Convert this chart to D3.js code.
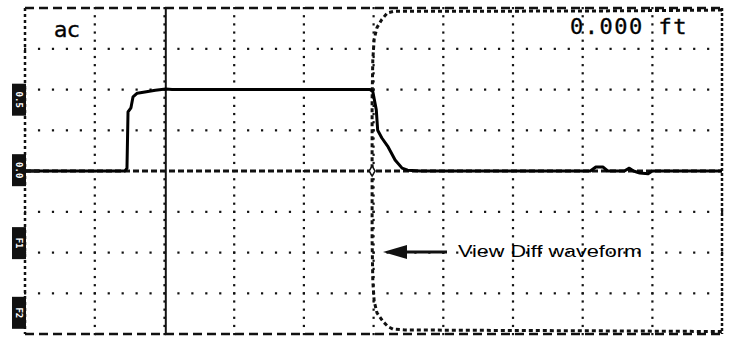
<!DOCTYPE html>
<html lang="en">
<head>
    <meta charset="UTF-8">
    <title>View Diff waveform</title>
    <script src="https://d3js.org/d3.v7.min.js"></script>
    <style>
        body {
            margin: 0;
            background: #fff;
        }

        svg {
            display: block;
        }

        .readout {
            font-family: "DejaVu Sans Mono", monospace;
            font-size: 22px;
            letter-spacing: 1.5px;
            stroke: #111;
            stroke-width: 0.4;
        }

        .mode {
            font-family: "DejaVu Sans", sans-serif;
            font-size: 22px;
            stroke: #111;
            stroke-width: 0.4;
        }

        .note {
            font-family: "Liberation Sans", Arial, sans-serif;
            font-size: 17px;
        }

        .side-label {
            font-family: "DejaVu Sans Mono", monospace;
            font-size: 9px;
            font-weight: bold;
            fill: #fff;
        }
    </style>
</head>
<body>
    <div id="chart"></div>

    <script>
        // measured trace, x in divisions (0-10), y in divisions (-4..4)
        const traceX = [0, 1.435, 1.463, 1.478, 1.52, 1.55, 1.61, 1.72, 1.87, 2.02, 2.11, 4.95, 4.99, 5.04, 5.06,
            5.12, 5.21, 5.31, 5.41, 5.49, 5.67, 8.11, 8.19, 8.29, 8.36, 8.6, 8.67, 8.73, 8.82, 8.94, 9.0, 10];
        const traceY = [0, 0, 0.07, 1.45, 1.55, 1.82, 1.91, 1.94, 1.98, 2.01, 2.0, 2.0, 1.95, 1.5, 1.0,
            0.81, 0.59, 0.27, 0.07, 0.02, 0, 0, 0.1, 0.1, 0, 0, 0.07, 0, -0.05, -0.07, 0, 0];

        // difference waveform (clipped at top and bottom of the screen)
        const diffX = [10, 8.5, 6.5, 5.3, 5.2, 5.12, 5.05, 5.01, 4.99, 4.98, 4.98, 4.98, 4.99, 5.01, 5.05,
            5.14, 5.21, 5.28, 5.45, 6.5, 8.0, 10];
        const diffY = [3.95, 3.93, 3.92, 3.92, 3.88, 3.72, 3.52, 3.24, 2.73, 1.75, 0, -1.7, -2.7, -3.2, -3.48,
            -3.7, -3.82, -3.88, -3.9, -3.91, -3.92, -3.94];

        const cursorX = 2.02;
        const diffMarkerX = 4.98;

        const modeText = "ac";
        const readoutText = "0.000 ft";
        const noteText = "View Diff waveform";

        // scale boxes on the left edge (y in divisions)
        const sideLabelY = [1.75, 0.02, -1.77, -3.48];
        const sideLabelText = ["0.5", "0.0", "F1", "F2"];

        const width = 731;
        const height = 337;

        const x = d3.scaleLinear().domain([0, 10]).range([25, 722]);
        const y = d3.scaleLinear().domain([-4, 4]).range([334, 8]);

        const svg = d3.select("#chart").append("svg")
            .attr("width", width)
            .attr("height", height);

        // dotted graticule, one dot per minor division
        const majorX = d3.range(1, 10);
        const majorY = [-3, -2, -1, 1, 2, 3];
        const minorX = d3.range(0, 10.01, 0.2);
        const minorY = d3.range(-4, 4.01, 0.2);

        const dots = [];
        majorX.forEach(gx => minorY.forEach(gy => dots.push([gx, gy])));
        majorY.forEach(gy => minorX.forEach(gx => dots.push([gx, gy])));

        svg.append("g")
            .selectAll("rect")
            .data(dots)
            .enter().append("rect")
            .attr("x", d => x(d[0]) - 1)
            .attr("y", d => y(d[1]) - 1)
            .attr("width", 2.2)
            .attr("height", 2.2)
            .attr("fill", "#111");

        // frame
        const frame = svg.append("g").attr("fill", "none").attr("stroke", "#111");
        frame.append("line")
            .attr("x1", x(0)).attr("x2", x(10)).attr("y1", y(4)).attr("y2", y(4))
            .attr("stroke-width", 2.5).attr("stroke-dasharray", "9,5");
        frame.append("line")
            .attr("x1", x(0)).attr("x2", x(10)).attr("y1", y(-4)).attr("y2", y(-4))
            .attr("stroke-width", 2.5).attr("stroke-dasharray", "9,5");
        frame.append("line")
            .attr("x1", x(0)).attr("x2", x(0)).attr("y1", y(4)).attr("y2", y(-4))
            .attr("stroke-width", 2.5).attr("stroke-dasharray", "3,3");
        frame.append("line")
            .attr("x1", x(10)).attr("x2", x(10)).attr("y1", y(4)).attr("y2", y(-4))
            .attr("stroke-width", 2.5).attr("stroke-dasharray", "3,2");

        // centre reference line
        frame.append("line")
            .attr("x1", x(0)).attr("x2", x(10)).attr("y1", y(0)).attr("y2", y(0))
            .attr("stroke-width", 3).attr("stroke-dasharray", "6,3");

        // cursor
        svg.append("line")
            .attr("x1", x(cursorX)).attr("x2", x(cursorX))
            .attr("y1", y(4)).attr("y2", y(-4))
            .attr("stroke", "#111")
            .attr("stroke-width", 2);

        const line = d3.line()
            .x(d => x(d[0]))
            .y(d => y(d[1]));

        // difference waveform
        svg.append("path")
            .datum(d3.zip(diffX, diffY))
            .attr("d", line)
            .attr("fill", "none")
            .attr("stroke", "#111")
            .attr("stroke-width", 3)
            .attr("stroke-dasharray", "4,3");

        svg.append("path")
            .attr("d", d3.symbol(d3.symbolDiamond, 30)())
            .attr("transform", `translate(${x(diffMarkerX)},${y(0)})`)
            .attr("fill", "#fff")
            .attr("stroke", "#111")
            .attr("stroke-width", 1.5);

        // main waveform
        svg.append("path")
            .datum(d3.zip(traceX, traceY))
            .attr("d", line)
            .attr("fill", "none")
            .attr("stroke", "#000")
            .attr("stroke-width", 3)
            .attr("stroke-linejoin", "round");

        // ground marker
        svg.append("line")
            .attr("x1", x(0)).attr("x2", x(0) + 14)
            .attr("y1", y(0)).attr("y2", y(0))
            .attr("stroke", "#111")
            .attr("stroke-width", 3);

        // left scale boxes
        const side = svg.append("g")
            .selectAll("g")
            .data(d3.zip(sideLabelY, sideLabelText))
            .enter().append("g")
            .attr("transform", d => `translate(${x(0) - 6},${y(d[0])})`);

        side.append("rect")
            .attr("x", -7)
            .attr("y", -16)
            .attr("width", 14)
            .attr("height", 32)
            .attr("fill", "#111");

        side.append("text")
            .attr("class", "side-label")
            .attr("transform", "rotate(90)")
            .attr("text-anchor", "middle")
            .attr("dy", "0.35em")
            .text(d => d[1]);

        // texts
        svg.append("text")
            .attr("class", "mode")
            .attr("x", 54)
            .attr("y", 37)
            .text(modeText);

        svg.append("text")
            .attr("class", "readout")
            .attr("x", 570)
            .attr("y", 34)
            .text(readoutText);

        svg.append("text")
            .attr("class", "note")
            .attr("x", 458)
            .attr("y", 257)
            .attr("textLength", 184)
            .attr("lengthAdjust", "spacingAndGlyphs")
            .text(noteText);

        // arrow pointing at the diff trace
        svg.append("line")
            .attr("x1", 447).attr("x2", 400)
            .attr("y1", 252).attr("y2", 252)
            .attr("stroke", "#111")
            .attr("stroke-width", 3);

        svg.append("path")
            .attr("d", "M383,252L407,245L407,259Z")
            .attr("fill", "#111");
    </script>
</body>
</html>
